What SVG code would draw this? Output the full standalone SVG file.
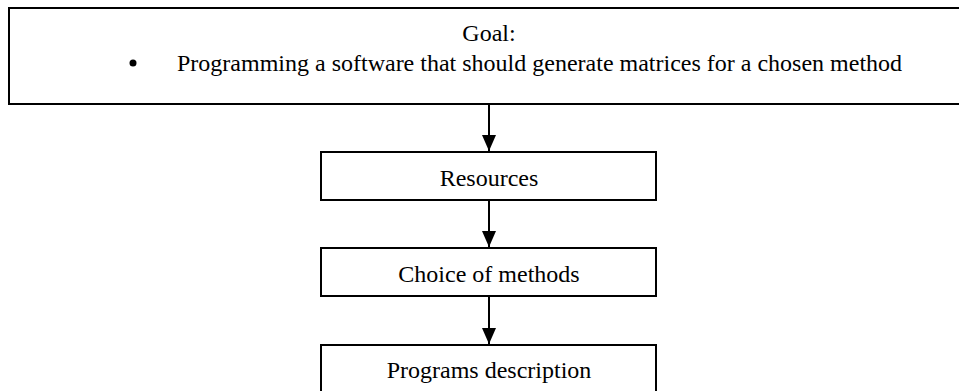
<svg xmlns="http://www.w3.org/2000/svg" width="959" height="391" viewBox="0 0 959 391">
  <style>
    .box { fill: #ffffff; stroke: #000000; stroke-width: 2; }
    .label { font-family: "Liberation Serif", "Times New Roman", serif; font-size: 24px; fill: #000000; }
    .conn { stroke: #000000; stroke-width: 2; fill: none; }
  </style>
  <defs>
    <marker id="arrowhead" markerUnits="userSpaceOnUse" markerWidth="16" markerHeight="14" refX="16" refY="7" orient="auto" viewBox="0 0 16 14">
      <path d="M0,0 L16,7 L0,14 Z" fill="#000000"/>
    </marker>
  </defs>
  <rect width="959" height="391" fill="#ffffff"/>

  <g id="goal">
    <rect class="box" x="9" y="8" width="960" height="96"/>
    <text class="label" x="489" y="41" text-anchor="middle">Goal:</text>
    <circle cx="133" cy="63" r="3.5" fill="#000000"/>
    <text class="label" x="177" y="71">Programming a software that should generate matrices for a chosen method</text>
  </g>

  <g id="resources">
    <rect class="box" x="321" y="152" width="335" height="48"/>
    <text class="label" x="489" y="186" text-anchor="middle">Resources</text>
  </g>

  <g id="choice">
    <rect class="box" x="321" y="248" width="335" height="48"/>
    <text class="label" x="489" y="282" text-anchor="middle">Choice of methods</text>
  </g>

  <g id="programs">
    <rect class="box" x="321" y="345" width="335" height="48"/>
    <text class="label" x="489" y="378" text-anchor="middle">Programs description</text>
  </g>

  <g id="connectors">
    <line class="conn" x1="489" y1="104" x2="489" y2="151" marker-end="url(#arrowhead)"/>
    <line class="conn" x1="489" y1="200" x2="489" y2="247" marker-end="url(#arrowhead)"/>
    <line class="conn" x1="489" y1="296" x2="489" y2="344" marker-end="url(#arrowhead)"/>
  </g>
</svg>
